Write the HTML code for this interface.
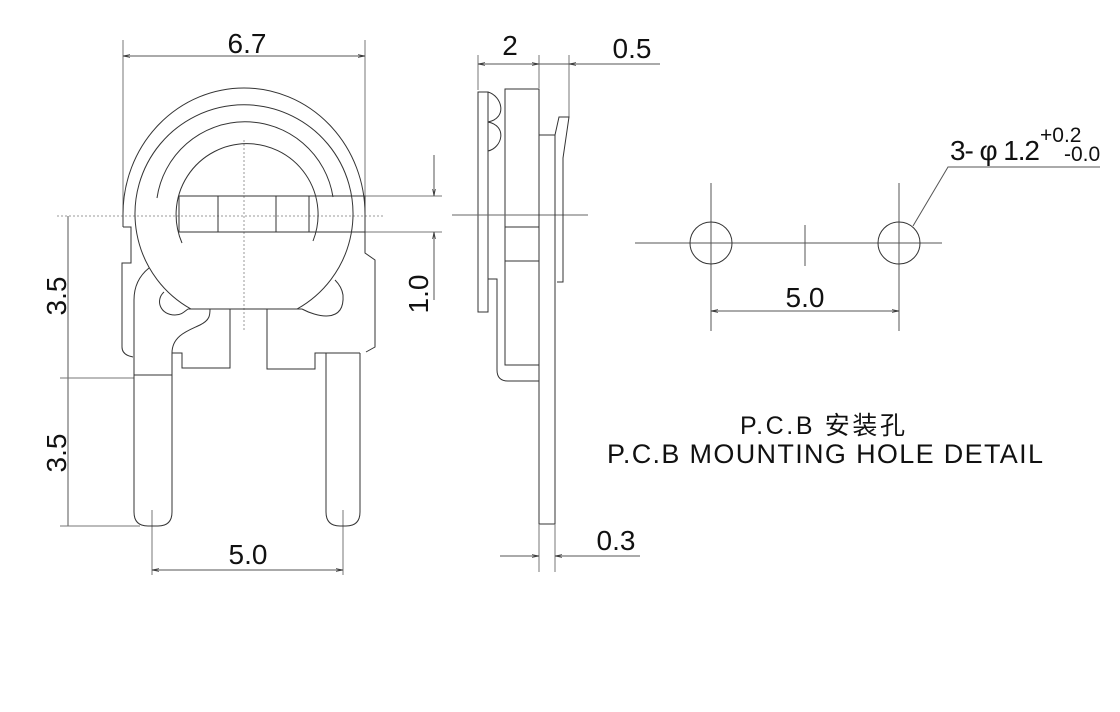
<!DOCTYPE html>
<html><head><meta charset="utf-8"><style>
html,body{margin:0;padding:0;background:#fff;}
svg{display:block;}
text{font-family:"Liberation Sans","Noto Sans CJK SC",sans-serif;fill:#111;}
</style></head><body>
<svg width="1120" height="712" viewBox="0 0 1120 712" xmlns="http://www.w3.org/2000/svg">
<defs><marker id="a" viewBox="0 0 10 10" refX="10" refY="5" markerWidth="7" markerHeight="7" orient="auto-start-reverse"><path d="M0,3 L10,5 L0,7" fill="none" stroke="#333"/></marker></defs>
<g fill="none" stroke="#333" stroke-width="1">
<line x1="123" y1="40" x2="123" y2="214" stroke="#777"/>
<line x1="365" y1="40" x2="365" y2="196" stroke="#777"/>
<line x1="123" y1="56" x2="365" y2="56" marker-start="url(#a)" marker-end="url(#a)" stroke="#555"/>
<line x1="57" y1="216" x2="385" y2="216" stroke="#999" stroke-dasharray="2,2"/>
<line x1="244" y1="140" x2="244" y2="330" stroke="#999" stroke-dasharray="2,2"/>
<line x1="68" y1="216" x2="68" y2="526" stroke="#555"/>
<line x1="60" y1="378" x2="134" y2="378" stroke="#777"/>
<line x1="60" y1="526" x2="140" y2="526" stroke="#777"/>
<line x1="365" y1="196" x2="442" y2="196" stroke="#777"/>
<line x1="365" y1="232" x2="442" y2="232" stroke="#777"/>
<line x1="434" y1="155" x2="434" y2="196" stroke="#555" marker-end="url(#a)"/>
<line x1="434" y1="300" x2="434" y2="232" stroke="#555" marker-end="url(#a)"/>
<line x1="152" y1="510" x2="152" y2="575" stroke="#777"/>
<line x1="343" y1="510" x2="343" y2="575" stroke="#777"/>
<line x1="152" y1="570" x2="343" y2="570" marker-start="url(#a)" marker-end="url(#a)" stroke="#555"/>
<path d="M123,227 L123,214 A121,126 0 0 1 365,214 L365,253 L375,260 L375,347 L366,352"/>
<path d="M123,227 L131,227 L131,263 L122,263 L122,347 Q122,355 133,357"/>
<path d="M191,309 A109,109 0 1 1 297,309"/>
<path d="M157,198 A89,89 0 0 1 333,197"/>
<path d="M182,243 A71,71 0 1 1 313,241"/>
<rect x="179" y="196" width="186" height="36"/>
<line x1="218" y1="196" x2="218" y2="232"/>
<line x1="276" y1="196" x2="276" y2="232"/>
<line x1="309" y1="196" x2="309" y2="232"/>
<line x1="188" y1="309" x2="302" y2="309"/>
<path d="M149,268 Q134,280 134,300 L134,512 Q134,526 148,526 L158,526 Q172,526 172,512 L172,353 L182,353 L182,368 L230,368 L230,309"/>
<line x1="134" y1="375" x2="172" y2="375"/>
<path d="M172,353 C172,335 190,330 200,325 C210,320 210,315 210,309"/>
<path d="M164,292 C155,300 160,315 175,315 C182,315 185,311 188,309"/>
<path d="M302,309 C315,316 345,325 343,295 C342,288 338,283 335,280"/>
<path d="M267,309 L267,369 L315,369 L315,353 L360,353"/>
<path d="M326,353 L326,512 Q326,526 340,526 L346,526 Q360,526 360,512 L360,353"/>
<line x1="478" y1="55" x2="478" y2="90" stroke="#777"/>
<line x1="539" y1="55" x2="539" y2="88" stroke="#777"/>
<line x1="569" y1="55" x2="569" y2="117" stroke="#777"/>
<line x1="478" y1="64" x2="539" y2="64" marker-start="url(#a)" marker-end="url(#a)" stroke="#555"/>
<line x1="539" y1="64" x2="569" y2="64" stroke="#555"/>
<line x1="660" y1="64" x2="569" y2="64" marker-end="url(#a)" stroke="#555"/>
<rect x="478" y="92" width="10" height="220"/>
<path d="M488,92 C502,96 508,118 488,122 C508,126 502,148 488,151"/>
<rect x="505" y="89" width="34" height="276"/>
<line x1="505" y1="227" x2="539" y2="227"/>
<line x1="505" y1="261" x2="539" y2="261"/>
<line x1="452" y1="215" x2="588" y2="215" stroke="#666"/>
<rect x="539" y="135" width="16" height="389"/>
<path d="M555,135 L559,117 L569,117 L563,158 L563,282 L557,282"/>
<path d="M488,279 L497,279 L497,370 Q497,381 508,381 L539,381"/>
<line x1="539" y1="524" x2="539" y2="572" stroke="#777"/>
<line x1="555" y1="524" x2="555" y2="572" stroke="#777"/>
<line x1="500" y1="556" x2="539" y2="556" marker-end="url(#a)" stroke="#555"/>
<line x1="640" y1="556" x2="555" y2="556" marker-end="url(#a)" stroke="#555"/>
<line x1="635" y1="243" x2="942" y2="243" stroke="#555"/>
<line x1="805" y1="225" x2="805" y2="266" stroke="#555"/>
<line x1="711" y1="183" x2="711" y2="331" stroke="#555"/>
<line x1="899" y1="183" x2="899" y2="331" stroke="#555"/>
<circle cx="711" cy="243" r="21"/>
<circle cx="899" cy="243" r="21"/>
<line x1="711" y1="311" x2="899" y2="311" marker-start="url(#a)" marker-end="url(#a)" stroke="#555"/>
<path d="M913,226 L948,167 L1100,167" stroke="#555"/>
</g>
<g font-size="28">
<text x="247" y="53" text-anchor="middle">6.7</text>
<text x="510" y="55" text-anchor="middle">2</text>
<text x="632" y="58" text-anchor="middle">0.5</text>
<text x="248" y="564" text-anchor="middle">5.0</text>
<text x="616" y="550" text-anchor="middle">0.3</text>
<text x="805" y="307" text-anchor="middle">5.0</text>
<text transform="translate(66,296) rotate(-90)" text-anchor="middle">3.5</text>
<text transform="translate(66,453) rotate(-90)" text-anchor="middle">3.5</text>
<text transform="translate(428,294) rotate(-90)" text-anchor="middle">1.0</text>
<text x="950" y="160" textLength="90">3- φ 1.2</text>
<text x="1040" y="142" font-size="21">+0.2</text>
<text x="1064" y="161" font-size="21">-0.0</text>
<text x="740" y="434" font-size="25" textLength="165">P.C.B 安装孔</text>
<text x="607" y="463" font-size="27" textLength="436">P.C.B MOUNTING HOLE DETAIL</text>
</g>
</svg>
</body></html>
